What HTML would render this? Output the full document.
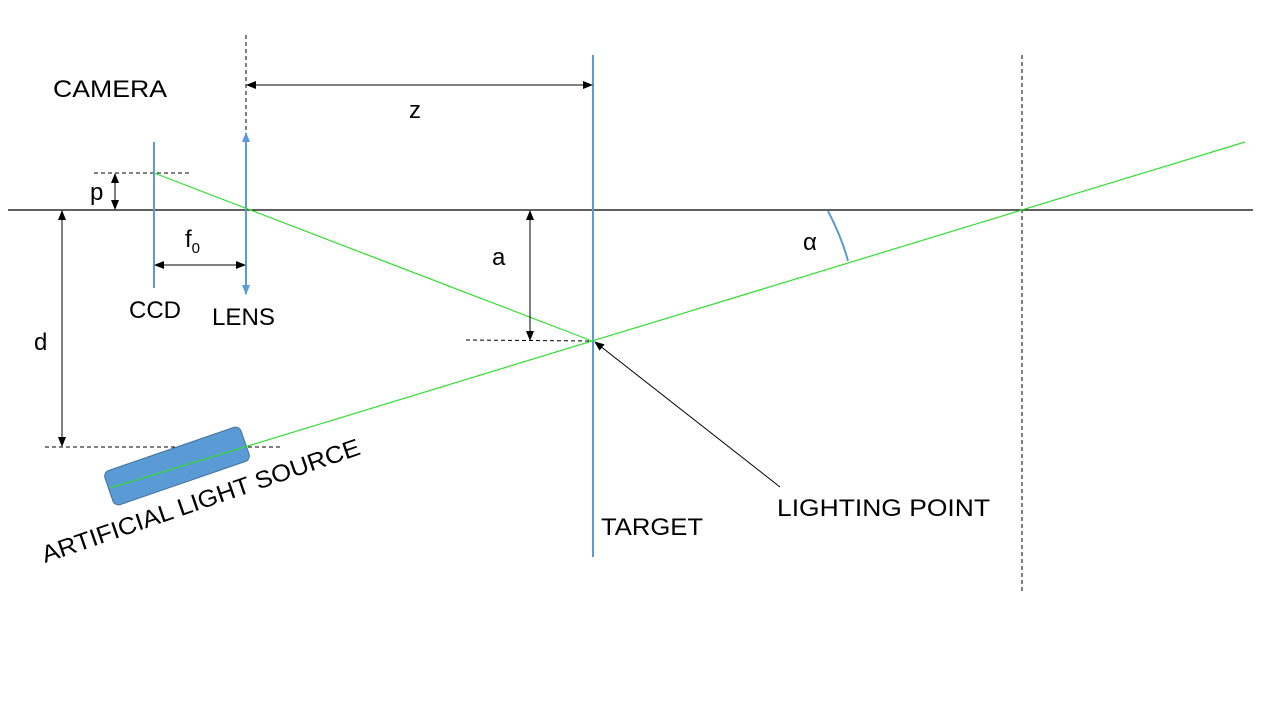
<!DOCTYPE html>
<html><head><meta charset="utf-8"><style>
body{margin:0;background:#fff}
svg{display:block}
text{font-family:"Liberation Sans",sans-serif;font-size:24px;fill:#000}
</style></head><body>
<svg width="1280" height="720" viewBox="0 0 1280 720">
<defs>
<marker id="ah" markerWidth="10" markerHeight="8" refX="9" refY="4" orient="auto-start-reverse" markerUnits="userSpaceOnUse"><path d="M0,0 L10,4 L0,8 Z" fill="#000"/></marker>
<marker id="ahb" markerWidth="10" markerHeight="8" refX="9" refY="4" orient="auto-start-reverse" markerUnits="userSpaceOnUse"><path d="M0,0 L10,4 L0,8 Z" fill="#5b9bd5"/></marker>
</defs>
<line x1="8" y1="210" x2="1253" y2="210" stroke="#000" stroke-width="1.2"/>
<g stroke="#000" stroke-width="1" stroke-dasharray="4,3" fill="none">
<line x1="246" y1="35" x2="246" y2="130"/>
<line x1="1022" y1="55" x2="1022" y2="592"/>
<line x1="94" y1="173" x2="190" y2="173"/>
<line x1="45" y1="447" x2="281" y2="447"/>
<line x1="466" y1="340" x2="592" y2="341"/>
</g>
<g transform="rotate(-19 177 466)"><rect x="105" y="448" width="144" height="36" rx="6" fill="#5b9bd5" stroke="#41719c" stroke-width="1"/></g>
<line x1="154" y1="142" x2="154" y2="288" stroke="#5b9bd5" stroke-width="2"/>
<line x1="246" y1="133" x2="246" y2="294" stroke="#5b9bd5" stroke-width="2" marker-start="url(#ahb)" marker-end="url(#ahb)"/>
<line x1="593" y1="55" x2="593" y2="557" stroke="#5b9bd5" stroke-width="2"/>
<line x1="154" y1="173" x2="592" y2="341" stroke="#33dd33" stroke-width="1.2"/>
<line x1="110" y1="488" x2="1245" y2="142" stroke="#33dd33" stroke-width="1.2"/>
<g stroke="#000" stroke-width="1" fill="none">
<line x1="247" y1="85" x2="592" y2="85" marker-start="url(#ah)" marker-end="url(#ah)"/>
<line x1="115" y1="174" x2="115" y2="209" marker-start="url(#ah)" marker-end="url(#ah)"/>
<line x1="62" y1="211" x2="62" y2="446" marker-start="url(#ah)" marker-end="url(#ah)"/>
<line x1="155" y1="265" x2="245" y2="265" marker-start="url(#ah)" marker-end="url(#ah)"/>
<line x1="530" y1="211" x2="530" y2="340" marker-start="url(#ah)" marker-end="url(#ah)"/>
<line x1="780" y1="487" x2="595" y2="342" marker-end="url(#ah)"/>
</g>
<path d="M828,211 Q842,238 848,261" stroke="#5b9bd5" stroke-width="2" fill="none"/>
<text x="53" y="97" textLength="114" lengthAdjust="spacingAndGlyphs">CAMERA</text>
<text x="409" y="118">z</text>
<text x="90" y="200">p</text>
<text x="34" y="350">d</text>
<text x="185" y="247">f<tspan font-size="15" dy="6">0</tspan></text>
<text x="129" y="318" textLength="52" lengthAdjust="spacingAndGlyphs">CCD</text>
<text x="212" y="325" textLength="63" lengthAdjust="spacingAndGlyphs">LENS</text>
<text x="492" y="265">a</text>
<text x="803" y="250">α</text>
<text x="601" y="535" textLength="102" lengthAdjust="spacingAndGlyphs">TARGET</text>
<text x="777" y="516" textLength="213" lengthAdjust="spacingAndGlyphs">LIGHTING POINT</text>
<text x="45" y="563" transform="rotate(-19 45 563)" textLength="335" lengthAdjust="spacingAndGlyphs">ARTIFICIAL LIGHT SOURCE</text>
</svg>
</body></html>
